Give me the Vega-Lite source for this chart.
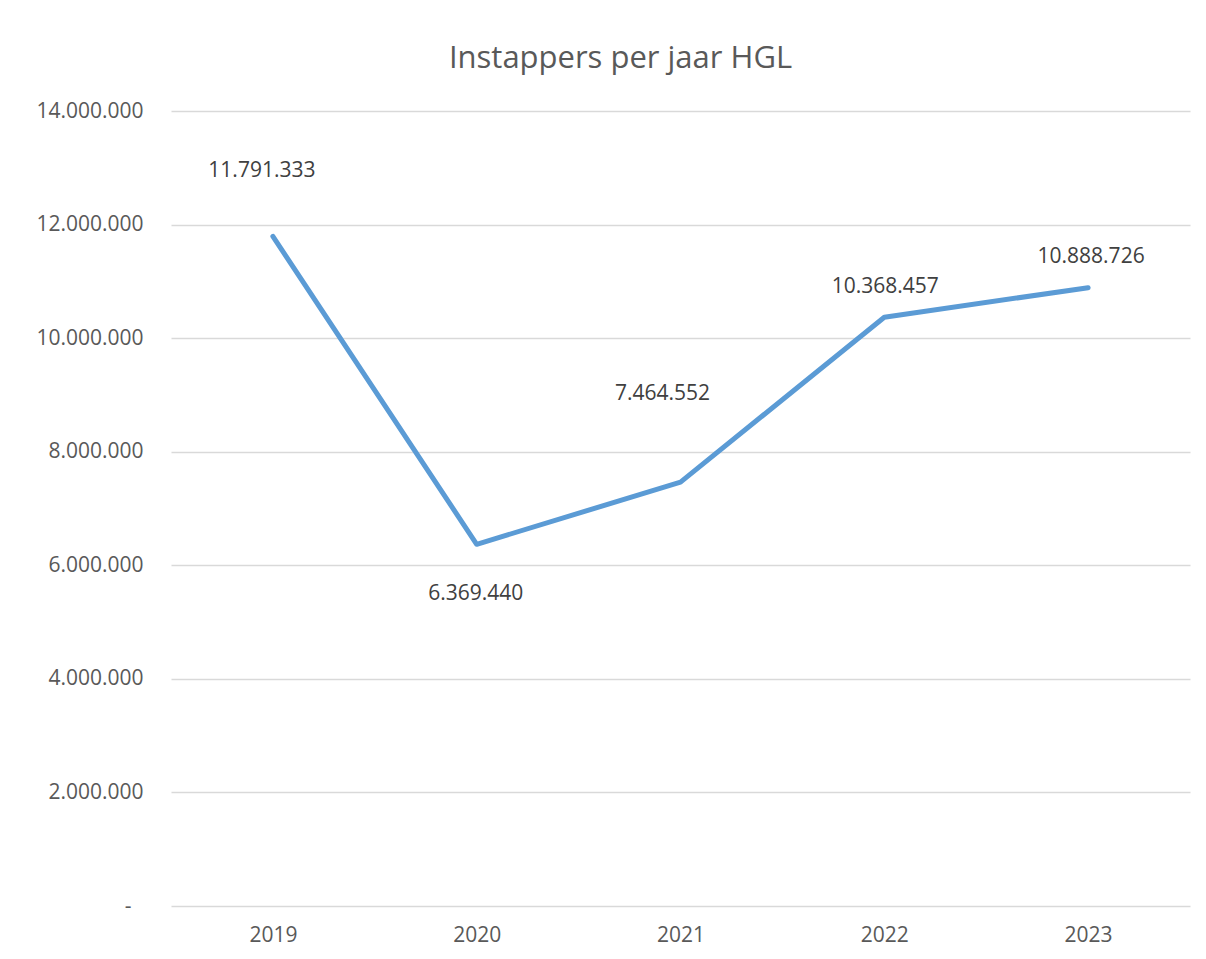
{
  "$schema": "https://vega.github.io/schema/vega-lite/v6.json",
  "width": 1019,
  "height": 795,
  "autosize": {"type": "none"},
  "padding": {"left": 171, "top": 111, "right": 16, "bottom": 53},
  "background": "white",
  "config": {
    "locale": {"number": {"decimal": ",", "thousands": ".", "grouping": [3], "currency": ["€", ""]}},
    "view": {"stroke": null},
    "font": "Open Sans"
  },
  "title": {
    "text": "Instappers per jaar HGL",
    "fontSize": 31,
    "font": "Open Sans",
    "fontWeight": "normal",
    "color": "#595959",
    "anchor": "middle",
    "frame": "group",
    "dx": -60,
    "offset": 25
  },
  "data": {
    "values": [
      {"jaar": "2019", "instappers": 11791333},
      {"jaar": "2020", "instappers": 6369440},
      {"jaar": "2021", "instappers": 7464552},
      {"jaar": "2022", "instappers": 10368457},
      {"jaar": "2023", "instappers": 10888726}
    ]
  },
  "encoding": {
    "x": {
      "field": "jaar",
      "type": "ordinal",
      "title": null,
      "scale": {"type": "point", "padding": 0.5},
      "axis": {
        "domain": false,
        "ticks": false,
        "grid": false,
        "labelAngle": 0,
        "labelFontSize": 21,
        "labelFont": "Open Sans",
        "labelColor": "#595959",
        "labelPadding": 18
      }
    },
    "y": {
      "field": "instappers",
      "type": "quantitative",
      "title": null,
      "scale": {"domain": [0, 14000000], "nice": false, "zero": true},
      "axis": {
        "values": [0, 2000000, 4000000, 6000000, 8000000, 10000000, 12000000, 14000000],
        "format": ",d",
        "labelExpr": "datum.value == 0 ? '-\u2007\u200b' : datum.label",
        "domain": false,
        "ticks": false,
        "grid": true,
        "gridColor": "#d9d9d9",
        "gridWidth": 1.3,
        "labelFontSize": 21,
        "labelFont": "Open Sans",
        "labelColor": "#595959",
        "labelPadding": 28
      }
    }
  },
  "layer": [
    {
      "mark": {"type": "line", "color": "#5B9BD5", "strokeWidth": 5, "strokeCap": "round", "strokeJoin": "round"}
    },
    {
      "transform": [{"filter": "datum.jaar == '2019'"}],
      "mark": {"type": "text", "fontSize": 21, "color": "#404040", "baseline": "alphabetic", "dx": -11, "dy": -59},
      "encoding": {"text": {"field": "instappers", "type": "quantitative", "format": ",d"}}
    },
    {
      "transform": [{"filter": "datum.jaar == '2020'"}],
      "mark": {"type": "text", "fontSize": 21, "color": "#404040", "baseline": "alphabetic", "dx": -1, "dy": 56},
      "encoding": {"text": {"field": "instappers", "type": "quantitative", "format": ",d"}}
    },
    {
      "transform": [{"filter": "datum.jaar == '2021'"}],
      "mark": {"type": "text", "fontSize": 21, "color": "#404040", "baseline": "alphabetic", "dx": -18, "dy": -82},
      "encoding": {"text": {"field": "instappers", "type": "quantitative", "format": ",d"}}
    },
    {
      "transform": [{"filter": "datum.jaar == '2022'"}],
      "mark": {"type": "text", "fontSize": 21, "color": "#404040", "baseline": "alphabetic", "dx": 1, "dy": -24},
      "encoding": {"text": {"field": "instappers", "type": "quantitative", "format": ",d"}}
    },
    {
      "transform": [{"filter": "datum.jaar == '2023'"}],
      "mark": {"type": "text", "fontSize": 21, "color": "#404040", "baseline": "alphabetic", "dx": 3, "dy": -25},
      "encoding": {"text": {"field": "instappers", "type": "quantitative", "format": ",d"}}
    }
  ]
}
